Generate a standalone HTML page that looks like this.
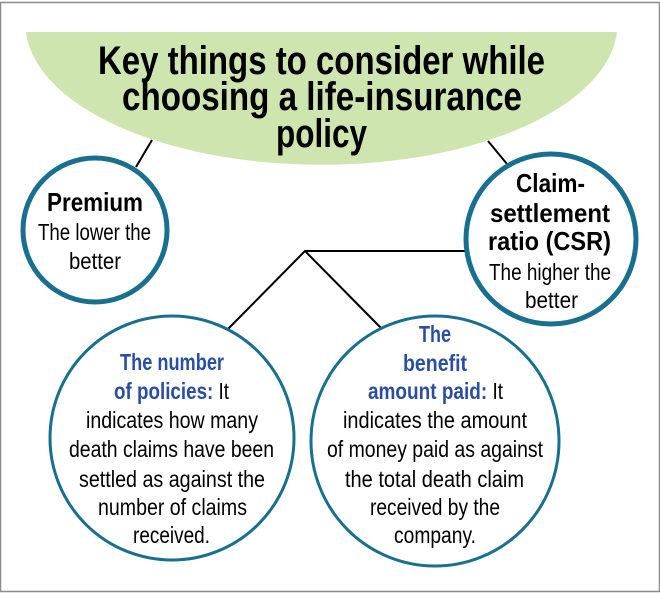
<!DOCTYPE html>
<html><head><meta charset="utf-8"><style>
html,body{margin:0;padding:0;background:#fff;}
svg{display:block;}
text{font-family:"Liberation Sans Narrow","Liberation Sans",sans-serif;}
</style></head><body>
<svg width="660" height="593" viewBox="0 0 660 593" xmlns="http://www.w3.org/2000/svg">
<rect x="0.5" y="2.5" width="659" height="589" fill="#fff" stroke="#8a8a8a" stroke-width="1.5"/>
<path d="M26 32 A296 141 0 0 0 617 32 Z" fill="#cfe5b0"/>
<g font-weight="bold" font-size="40" fill="#000">
<text x="98" y="74" textLength="447" lengthAdjust="spacingAndGlyphs">Key things to consider while</text>
<text x="122" y="110" textLength="400" lengthAdjust="spacingAndGlyphs">choosing a life-insurance</text>
<text x="276" y="147" textLength="91" lengthAdjust="spacingAndGlyphs">policy</text>
</g>
<g stroke="#000" stroke-width="2" fill="none">
<line x1="152" y1="140" x2="136" y2="167"/>
<line x1="488" y1="141" x2="507" y2="164"/>
<polyline points="465,251 305,251 227,330"/>
<line x1="305" y1="251" x2="381" y2="328"/>
</g>
<circle cx="95" cy="230" r="72" fill="#fff" stroke="#186f8f" stroke-width="5"/>
<circle cx="551" cy="239" r="85" fill="#fff" stroke="#186f8f" stroke-width="5"/>
<ellipse cx="172" cy="438" rx="122" ry="122" fill="#fff" stroke="#186f8f" stroke-width="3"/>
<ellipse cx="435" cy="441" rx="124" ry="125" fill="#fff" stroke="#186f8f" stroke-width="3"/>
<g font-size="26" font-weight="bold" fill="#000">
<text x="47" y="211" textLength="96" lengthAdjust="spacingAndGlyphs">Premium</text>
<text x="516" y="192" textLength="69" lengthAdjust="spacingAndGlyphs">Claim-</text>
<text x="490" y="222" textLength="120" lengthAdjust="spacingAndGlyphs">settlement</text>
<text x="488" y="250" textLength="123" lengthAdjust="spacingAndGlyphs">ratio (CSR)</text>
</g>
<g font-size="23" fill="#000">
<text x="38" y="240" textLength="113" lengthAdjust="spacingAndGlyphs">The lower the</text>
<text x="69" y="269" textLength="52" lengthAdjust="spacingAndGlyphs">better</text>
<text x="489" y="280" textLength="122" lengthAdjust="spacingAndGlyphs">The higher the</text>
<text x="525" y="308" textLength="53" lengthAdjust="spacingAndGlyphs">better</text>
</g>
<g font-size="23" fill="#000">
<text x="120" y="370" textLength="104" lengthAdjust="spacingAndGlyphs" fill="#2a4fa0" font-weight="bold">The number</text>
<text x="114" y="399" textLength="115" lengthAdjust="spacingAndGlyphs"><tspan fill="#2a4fa0" font-weight="bold">of policies:</tspan> It</text>
<text x="86" y="428" textLength="172" lengthAdjust="spacingAndGlyphs">indicates how many</text>
<text x="69" y="457" textLength="205" lengthAdjust="spacingAndGlyphs">death claims have been</text>
<text x="79" y="487" textLength="186" lengthAdjust="spacingAndGlyphs">settled as against the</text>
<text x="98" y="515" textLength="149" lengthAdjust="spacingAndGlyphs">number of claims</text>
<text x="133" y="543" textLength="77" lengthAdjust="spacingAndGlyphs">received.</text>

<text x="419" y="342" textLength="32" lengthAdjust="spacingAndGlyphs" fill="#2a4fa0" font-weight="bold">The</text>
<text x="403" y="371" textLength="64" lengthAdjust="spacingAndGlyphs" fill="#2a4fa0" font-weight="bold">benefit</text>
<text x="368" y="399" textLength="135" lengthAdjust="spacingAndGlyphs"><tspan fill="#2a4fa0" font-weight="bold">amount paid:</tspan> It</text>
<text x="343" y="428" textLength="184" lengthAdjust="spacingAndGlyphs">indicates the amount</text>
<text x="327" y="457" textLength="216" lengthAdjust="spacingAndGlyphs">of money paid as against</text>
<text x="345" y="487" textLength="179" lengthAdjust="spacingAndGlyphs">the total death claim</text>
<text x="370" y="515" textLength="130" lengthAdjust="spacingAndGlyphs">received by the</text>
<text x="394" y="543" textLength="82" lengthAdjust="spacingAndGlyphs">company.</text>
</g>
</svg>
</body></html>
